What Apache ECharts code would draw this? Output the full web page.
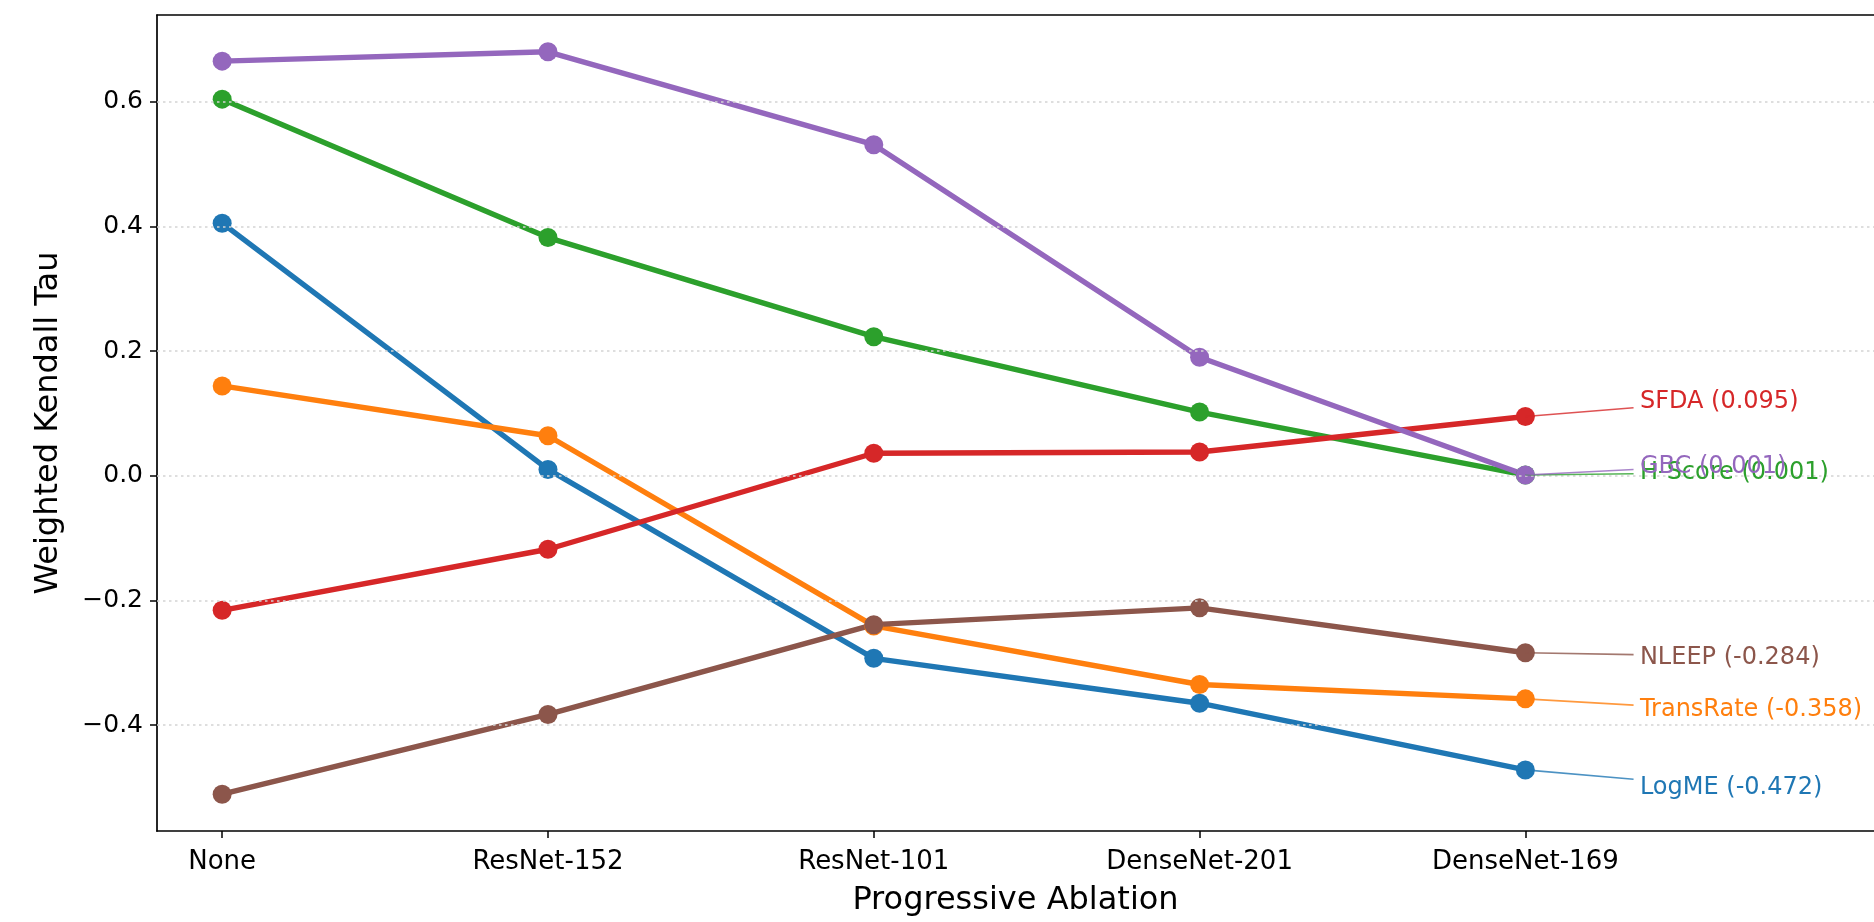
<!DOCTYPE html>
<html>
<head>
<meta charset="utf-8">
<script src="https://cdn.jsdelivr.net/npm/echarts@6/dist/echarts.min.js"></script>
<style>
  html, body { margin: 0; padding: 0; background: #ffffff; }
  #chart { width: 1874px; height: 922px; }
</style>
</head>
<body>
<div id="chart"></div>
<script>
// categories along the x axis
const categories = ['None', 'ResNet-152', 'ResNet-101', 'DenseNet-201', 'DenseNet-169']

// series values
const logme = [0.405, 0.010, -0.293, -0.365, -0.472]
const transrate = [0.144, 0.064, -0.241, -0.335, -0.358]
const hscore = [0.604, 0.382, 0.223, 0.102, 0.001]
const sfda = [-0.216, -0.118, 0.036, 0.038, 0.095]
const gbc = [0.665, 0.680, 0.531, 0.190, 0.001]
const nleep = [-0.511, -0.383, -0.239, -0.212, -0.284]

const seriesNames = ['LogME', 'TransRate', 'H-Score', 'SFDA', 'GBC', 'NLEEP']
const seriesValues = [logme, transrate, hscore, sfda, gbc, nleep]
const colors = ['#1f77b4', '#ff7f0e', '#2ca02c', '#d62728', '#9467bd', '#8c564b']

// tick labels
const yTicks = [-0.4, -0.2, 0.0, 0.2, 0.4, 0.6]
const xTicks = [0, 1, 2, 3, 4]

// where the end annotations sit (leader end y, text y), in axis units
const leaderEnd = [-0.487, -0.368, 0.003, 0.109, 0.010, -0.287]
const labelAt = [-0.500, -0.375, 0.004, 0.118, 0.014, -0.292]

const font = 'DejaVu Sans'

const fmtY = (v) => (v < 0 ? '\u2212' : '') + Math.abs(v).toFixed(1)

const myChart = echarts.init(document.getElementById('chart'))

const baseX = {
  type: 'value',
  min: -0.2,
  max: 5.07,
  splitLine: { show: false }
}

const option = {
  animation: false,
  backgroundColor: '#ffffff',
  grid: {
    left: 157,
    right: 0,
    top: 15,
    bottom: 90
  },
  xAxis: [
    {
      ...baseX,
      position: 'bottom',
      name: 'Progressive Ablation',
      nameLocation: 'middle',
      nameGap: 54,
      nameTextStyle: { color: '#000', fontSize: 32, fontFamily: font },
      axisLine: { show: true, onZero: false, lineStyle: { color: '#000', width: 1.7 } },
      axisTick: { show: true, length: 7, customValues: xTicks, lineStyle: { color: '#000', width: 1.5 } },
      axisLabel: {
        customValues: xTicks,
        margin: 18,
        color: '#000',
        fontSize: 26,
        fontFamily: font,
        formatter: (v) => categories[Math.round(v)]
      }
    },
    {
      ...baseX,
      position: 'top',
      axisLine: { show: true, onZero: false, lineStyle: { color: '#000', width: 1.7 } },
      axisTick: { show: false },
      axisLabel: { show: false }
    }
  ],
  yAxis: {
    type: 'value',
    min: -0.57,
    max: 0.739,
    name: 'Weighted Kendall Tau',
    nameLocation: 'middle',
    nameGap: 92,
    nameTextStyle: { color: '#000', fontSize: 32, fontFamily: font },
    axisLine: { show: true, onZero: false, lineStyle: { color: '#000', width: 1.7 } },
    axisTick: { show: true, length: 7, customValues: yTicks, lineStyle: { color: '#000', width: 1.5 } },
    axisLabel: {
      customValues: yTicks,
      margin: 14,
      color: '#000',
      fontSize: 25,
      fontFamily: font,
      formatter: fmtY
    },
    splitLine: { show: false }
  },
  series: [
    {
      // dotted horizontal gridlines
      type: 'line',
      data: [],
      z: 1,
      silent: true,
      markLine: {
        silent: true,
        symbol: ['none', 'none'],
        label: { show: false },
        lineStyle: { color: '#d4d4d4', width: 1.5, type: [2.5, 3.5] },
        data: yTicks.map((v) => ({ yAxis: v }))
      }
    },
    ...seriesNames.map((name, i) => {
      const values = seriesValues[i]
      const last = values[values.length - 1]
      return {
        name: name,
        type: 'line',
        z: 2,
        data: values.map((v, j) => [j, v]),
        symbol: 'circle',
        symbolSize: 19,
        color: colors[i],
        itemStyle: { color: colors[i] },
        lineStyle: { color: colors[i], width: 5.4 },
        emphasis: { disabled: true },
        markLine: {
          silent: true,
          symbol: ['none', 'none'],
          label: { show: false },
          lineStyle: { color: colors[i], width: 1.6, type: 'solid', opacity: 0.8 },
          data: [[{ coord: [4, last] }, { coord: [4.332, leaderEnd[i]] }]]
        },
        markPoint: {
          silent: true,
          symbol: 'rect',
          symbolSize: 1,
          itemStyle: { color: 'rgba(0,0,0,0)' },
          label: {
            show: true,
            position: 'right',
            distance: 0,
            color: colors[i],
            fontSize: 24,
            fontFamily: font,
            formatter: name + ' (' + last.toFixed(3) + ')'
          },
          data: [{ coord: [4.35, labelAt[i]] }]
        }
      }
    })
  ]
}

myChart.setOption(option)
</script>
</body>
</html>
